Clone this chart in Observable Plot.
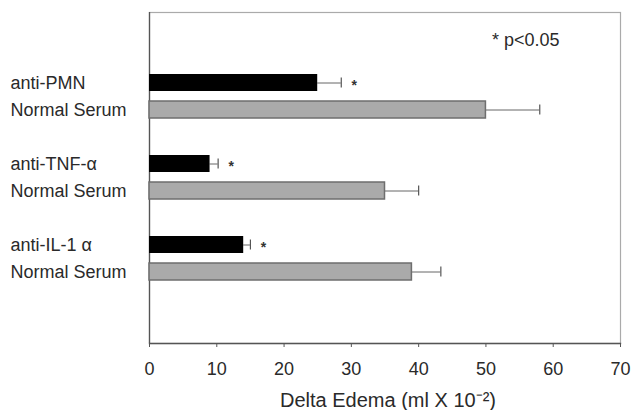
<!DOCTYPE html>
<html>
<head>
<meta charset="utf-8">
<script src="https://cdn.jsdelivr.net/npm/d3@7"></script>
<script src="https://cdn.jsdelivr.net/npm/@observablehq/plot@0.6"></script>
<style>
  html, body { margin: 0; padding: 0; background: #fff; }
  #chart svg { display: block; }
</style>
</head>
<body>
<div id="chart"></div>
<script>
// ---- data ----
const groups = ["anti-PMN", "anti-TNF-\u03b1", "anti-IL-1 \u03b1"];
const controlLabel = "Normal Serum";
const antibodyValues = [25, 9, 14];
const antibodyErrors = [3.5, 1.2, 1.0];
const normalValues = [50, 35, 39];
const normalErrors = [8, 5, 4.3];
const xTicks = [0, 10, 20, 30, 40, 50, 60, 70];
const xTitle = "Delta Edema (ml X 10\u207b\u00b2)";
const note = "* p<0.05";

// ---- rows (band keys; blank keys leave the empty slots) ----
const rows = [];
groups.forEach((g, i) => {
  rows.push({key: "a" + i, label: g, value: antibodyValues[i], err: antibodyErrors[i], kind: "antibody"});
  rows.push({key: "n" + i, label: controlLabel, value: normalValues[i], err: normalErrors[i], kind: "normal"});
});
const yDomain = ["pad0", "pad1"];
groups.forEach((g, i) => {
  yDomain.push("a" + i, "n" + i);
  yDomain.push("gap" + i);
});
yDomain.push("pad2");

const antibodyRows = rows.filter(d => d.kind === "antibody");
const normalRows = rows.filter(d => d.kind === "normal");

const chart = Plot.plot({
  width: 632,
  height: 410,
  marginLeft: 149,
  marginRight: 12,
  marginTop: 12,
  marginBottom: 67,
  style: {fontFamily: "'Liberation Sans', Arial, sans-serif", fontSize: "18px", color: "#2a2a2a", background: "#fff"},
  x: {domain: [0, 70], ticks: xTicks},
  y: {domain: yDomain, paddingInner: 0.37, paddingOuter: 0.17, axis: null},
  marks: [
    Plot.frame({stroke: "#aaa", strokeWidth: 1.2}),
    Plot.frame({anchor: "bottom", stroke: "#555", strokeWidth: 1.3}),
    Plot.ruleX([0], {stroke: "#555", strokeWidth: 1.3}),
    // error bars
    Plot.ruleY(rows, {y: "key", x1: "value", x2: d => d.value + d.err, stroke: "#666", strokeWidth: 1}),
    Plot.tickX(rows, {y: "key", x: d => d.value + d.err, stroke: "#555", strokeWidth: 1.2, insetTop: 3.5, insetBottom: 3.5}),
    // bars
    Plot.barX(normalRows, {y: "key", x: "value", fill: "#aaaaaa", stroke: "#6e6e6e", strokeWidth: 1.5}),
    Plot.barX(antibodyRows, {y: "key", x: "value", fill: "#000"}),
    // significance stars
    Plot.text(antibodyRows, {y: "key", x: d => d.value + d.err, text: () => "*", dx: 13, dy: 3, fontSize: 14, fontWeight: "bold", fill: "#333"}),
    // row labels
    Plot.text(rows, {y: "key", text: "label", frameAnchor: "left", dx: -139, textAnchor: "start", fontSize: 18, fill: "#2a2a2a"}),
    // x axis
    Plot.axisX({ticks: xTicks, tickSize: 4, tickPadding: 15, label: null, fontSize: 18, stroke: "#555", fill: "#2a2a2a"}),
    Plot.text([xTitle], {frameAnchor: "bottom", dy: 57, dx: 3, lineAnchor: "middle", fontSize: 20, fill: "#2a2a2a"}),
    // note
    Plot.text([note], {frameAnchor: "top-right", dx: -61, dy: 28, textAnchor: "end", lineAnchor: "middle", fontSize: 18, fill: "#2a2a2a"})
  ]
});
document.getElementById("chart").appendChild(chart);
</script>
</body>
</html>
